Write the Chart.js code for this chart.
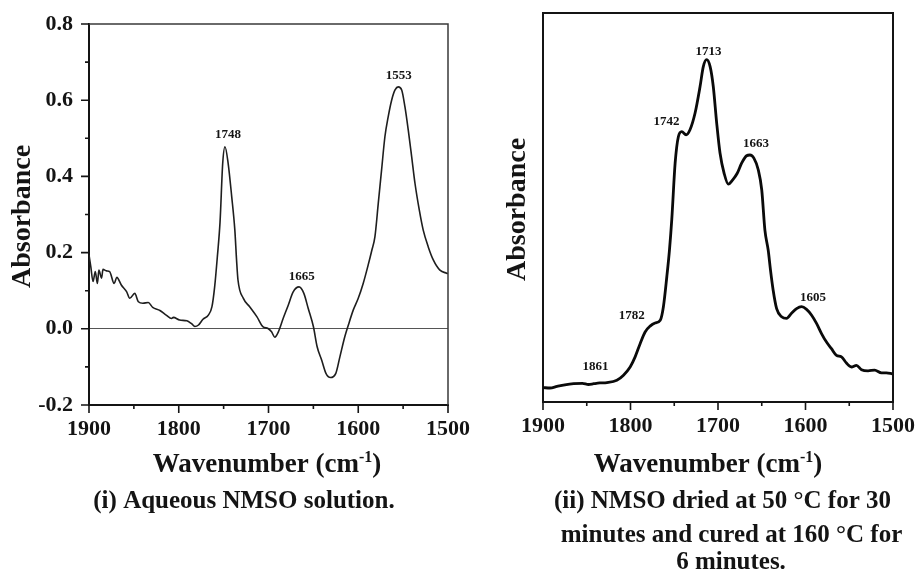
<!DOCTYPE html>
<html><head><meta charset="utf-8">
<script src="https://cdn.jsdelivr.net/npm/chart.js@4/dist/chart.umd.min.js"></script>
<style>
html,body{margin:0;padding:0;background:#fff;width:918px;height:573px;overflow:hidden;}
#c1{position:absolute;left:0;top:0;}
#c2{position:absolute;left:500px;top:0;}
</style></head><body>
<canvas id="c1" width="475" height="573"></canvas>
<canvas id="c2" width="418" height="573"></canvas>
<script>
// ---------- Panel (i): aqueous NMSO solution ----------
const leftWavenumber = [1900,1898,1895.5,1893,1890.6,1889,1886,1884.4,1880.6,1877,1872,1869,1864,1858,1854.6,1849,1845,1840,1834,1829,1821,1814,1808,1806,1799,1791,1786,1782,1778,1773,1767,1763,1760,1757,1754,1751,1748.5,1745,1741,1737.5,1735.6,1734,1728,1721,1713,1706,1700.5,1696.6,1693,1689,1683.7,1678,1672.5,1666,1660.6,1655.8,1650,1645.8,1640.8,1636,1631,1625,1620.4,1615,1611,1605.6,1600,1594.5,1589,1585,1581.4,1577.7,1574,1570.3,1566.6,1562.8,1559,1555.4,1551.6,1548,1544.3,1540.5,1536.8,1532,1527.6,1522,1516.4,1509,1501.5,1500];
const leftAbsorbance = [0.194,0.163,0.124,0.150,0.119,0.154,0.133,0.156,0.152,0.150,0.119,0.135,0.115,0.097,0.080,0.093,0.071,0.067,0.069,0.056,0.048,0.036,0.027,0.030,0.023,0.021,0.014,0.006,0.010,0.025,0.036,0.058,0.110,0.189,0.280,0.435,0.478,0.435,0.347,0.259,0.181,0.128,0.080,0.058,0.032,0.005,0.001,-0.008,-0.022,-0.008,0.027,0.062,0.097,0.110,0.093,0.054,0.006,-0.047,-0.082,-0.117,-0.128,-0.117,-0.073,-0.021,0.010,0.049,0.080,0.119,0.167,0.205,0.242,0.329,0.417,0.504,0.557,0.600,0.627,0.635,0.627,0.583,0.522,0.452,0.382,0.312,0.259,0.215,0.181,0.154,0.146,0.145];
const leftPeakLabels = ['1748','1665','1553'];
const leftPeakLabelX = [1745, 1663, 1555];
const leftPeakLabelY = [0.509, 0.137, 0.664];
const leftYTickLabels = [0.8, 0.6, 0.4, 0.2, 0.0, -0.2];
const leftCaption = ['(i) Aqueous NMSO solution.'];

// ---------- Panel (ii): dried and cured NMSO ----------
const rightWavenumber = [1900,1892,1884,1875,1865,1855,1848,1842,1835,1827,1815.6,1808,1800.4,1794.7,1789,1783.3,1777.6,1771.9,1766,1762.4,1758.5,1755.5,1752.8,1749,1745.3,1741.4,1736.5,1732,1726.2,1720.5,1716.8,1713,1709,1705.4,1701.5,1697.7,1693,1688.2,1683.2,1678,1673,1667.3,1663.5,1659,1654,1650,1646.4,1642.6,1640,1637,1633,1627.3,1621.6,1616,1610.2,1604.5,1598.8,1593,1587.4,1581.7,1576,1570.3,1564.6,1558.9,1553.2,1547.5,1541.8,1536,1528.5,1521,1513.2,1507.5,1501.8,1500];
const rightAbsorbance = [0.037,0.036,0.040,0.044,0.047,0.048,0.045,0.047,0.049,0.050,0.056,0.069,0.090,0.116,0.150,0.180,0.195,0.203,0.210,0.245,0.322,0.390,0.470,0.614,0.682,0.695,0.687,0.700,0.743,0.811,0.862,0.880,0.862,0.811,0.717,0.640,0.588,0.560,0.571,0.588,0.614,0.633,0.635,0.627,0.597,0.545,0.442,0.390,0.339,0.288,0.240,0.219,0.215,0.228,0.240,0.245,0.238,0.223,0.202,0.176,0.154,0.137,0.120,0.116,0.100,0.090,0.094,0.083,0.080,0.082,0.075,0.075,0.073,0.072];
const rightPeakLabels = ['1861','1782','1742','1713','1663','1605'];
const rightPeakLabelX = [1840, 1798.5, 1759, 1711, 1656.5, 1591.3];
const rightPeakLabelY = [0.090, 0.221, 0.721, 0.901, 0.663, 0.268];
const rightCaption = ['(ii) NMSO dried at 50 \u00B0C for 30', 'minutes and cured at 160 \u00B0C for', '6 minutes.'];

// ---------- shared axis text ----------
const xTickLabels = [1900, 1800, 1700, 1600, 1500];
const yTitle = 'Absorbance';
const xTitleMain = 'Wavenumber (cm';
const xTitleSup = '-1';
const xTitleEnd = ')';

const SERIF = '"Liberation Serif", "Times New Roman", Times, serif';
const INK = '#141414';

const panelPlugin = {
  id: 'panel',
  afterDraw(chart, args, o) {
    const ctx = chart.ctx, a = chart.chartArea, xs = chart.scales.x, ys = chart.scales.y;
    ctx.save();
    // top and right frame
    ctx.strokeStyle = o.frameColor; ctx.lineWidth = o.frameWidth;
    ctx.beginPath(); ctx.moveTo(a.left, a.top); ctx.lineTo(a.right, a.top); ctx.lineTo(a.right, a.bottom); ctx.stroke();
    // ticks
    ctx.strokeStyle = INK; ctx.lineWidth = 1.6;
    ctx.beginPath();
    xs.ticks.forEach(t => {
      const px = xs.getPixelForValue(t.value);
      const len = xTickLabels.includes(t.value) ? 8 : 4;
      ctx.moveTo(px, a.bottom); ctx.lineTo(px, a.bottom + len);
    });
    if (o.yTicks) {
      ys.ticks.forEach(t => {
        const py = ys.getPixelForValue(t.value);
        const major = leftYTickLabels.some(v => Math.abs(v - t.value) < 1e-6);
        const len = major ? 8 : 4;
        ctx.moveTo(a.left, py); ctx.lineTo(a.left - len, py);
      });
    }
    ctx.stroke();
    // peak labels
    ctx.fillStyle = INK;
    ctx.font = 'bold 13px ' + SERIF;
    ctx.textAlign = 'center'; ctx.textBaseline = 'middle';
    o.labels.forEach((txt, i) => {
      ctx.fillText(txt, xs.getPixelForValue(o.labelX[i]), ys.getPixelForValue(o.labelY[i]));
    });
    // y title
    ctx.font = 'bold 28px ' + SERIF;
    ctx.save();
    ctx.translate(o.yTitleX, (a.top + a.bottom) / 2 + o.yTitleDy);
    ctx.rotate(-Math.PI / 2);
    ctx.textAlign = 'center'; ctx.textBaseline = 'middle';
    ctx.fillText(yTitle, 0, 0);
    ctx.restore();
    // x title with superscript
    ctx.textAlign = 'left'; ctx.textBaseline = 'alphabetic';
    const fMain = 'bold 27px ' + SERIF, fSup = 'bold 16px ' + SERIF;
    ctx.font = fMain; const w1 = ctx.measureText(xTitleMain).width, w3 = ctx.measureText(xTitleEnd).width;
    ctx.font = fSup; const w2 = ctx.measureText(xTitleSup).width;
    const cx = (a.left + a.right) / 2 + o.xTitleDx;
    let x0 = cx - (w1 + w2 + w3) / 2;
    ctx.font = fMain; ctx.fillText(xTitleMain, x0, o.xTitleBase);
    ctx.font = fSup; ctx.fillText(xTitleSup, x0 + w1, o.xTitleBase - 10);
    ctx.font = fMain; ctx.fillText(xTitleEnd, x0 + w1 + w2, o.xTitleBase);
    // caption
    ctx.font = 'bold 25px ' + SERIF;
    ctx.textAlign = 'center';
    o.caption.forEach((line, i) => ctx.fillText(line, o.capX[i], o.capBase[i]));
    ctx.restore();
  }
};

function makePanel(id, wn, ab, cfg) {
  return new Chart(document.getElementById(id), {
    type: 'line',
    data: { datasets: [{
      data: wn.map((w, i) => ({ x: w, y: ab[i] })),
      borderColor: cfg.lineColor, borderWidth: cfg.lineWidth,
      pointRadius: 0, fill: false, cubicInterpolationMode: 'monotone'
    }] },
    options: {
      responsive: false, animation: false, events: [],
      layout: { padding: { left: 0, top: cfg.padTop, right: cfg.padRight, bottom: 0 } },
      plugins: { legend: { display: false }, tooltip: { enabled: false }, panel: cfg.panel },
      scales: {
        x: {
          type: 'linear', position: 'bottom', reverse: true, min: 1500, max: 1900,
          afterFit: s => { s.height = cfg.xHeight; },
          ticks: { stepSize: 50, autoSkip: false, maxRotation: 0, padding: 3, color: INK,
                   font: { family: SERIF, size: 22, weight: 'bold' },
                   callback: v => xTickLabels.includes(v) ? String(v) : '' },
          grid: { drawOnChartArea: false, drawTicks: true, tickLength: 8, tickColor: 'rgba(0,0,0,0)' },
          border: { display: true, color: INK, width: 2 }
        },
        y: cfg.y
      }
    },
    plugins: [panelPlugin]
  });
}

makePanel('c1', leftWavenumber, leftAbsorbance, {
  lineColor: '#1e1e1e', lineWidth: 1.6, padTop: 24, padRight: 27, xHeight: 168,
  y: {
    min: -0.2, max: 0.8,
    afterFit: s => { s.width = 89; },
    ticks: { stepSize: 0.1, padding: 8, color: INK, font: { family: SERIF, size: 22, weight: 'bold' },
             callback: v => leftYTickLabels.some(t => Math.abs(t - v) < 1e-6) ? v.toFixed(1) : '' },
    grid: { drawOnChartArea: true, drawTicks: true, tickLength: 8, tickColor: 'rgba(0,0,0,0)', lineWidth: 1,
            color: c => (c.tick && Math.abs(c.tick.value) < 1e-6) ? '#555' : 'rgba(0,0,0,0)' },
    border: { display: true, color: INK, width: 2 }
  },
  panel: { frameColor: '#3a3a3a', frameWidth: 1.5, yTicks: true,
           labels: leftPeakLabels, labelX: leftPeakLabelX, labelY: leftPeakLabelY,
           yTitleX: 22.5, yTitleDy: 2, xTitleDx: -1.5, xTitleBase: 472,
           caption: leftCaption, capX: [244], capBase: [508] }
});

makePanel('c2', rightWavenumber, rightAbsorbance, {
  lineColor: '#0a0a0a', lineWidth: 2.8, padTop: 13, padRight: 25, xHeight: 171,
  y: {
    min: 0, max: 1,
    afterFit: s => { s.width = 43; },
    ticks: { display: false },
    grid: { display: false },
    border: { display: true, color: INK, width: 2 }
  },
  panel: { frameColor: '#141414', frameWidth: 2, yTicks: false,
           labels: rightPeakLabels, labelX: rightPeakLabelX, labelY: rightPeakLabelY,
           yTitleX: 18, yTitleDy: 2, xTitleDx: -10, xTitleBase: 472,
           caption: rightCaption, capX: [222.5, 231.5, 231], capBase: [508, 542, 569] }
});
</script>
</body></html>
